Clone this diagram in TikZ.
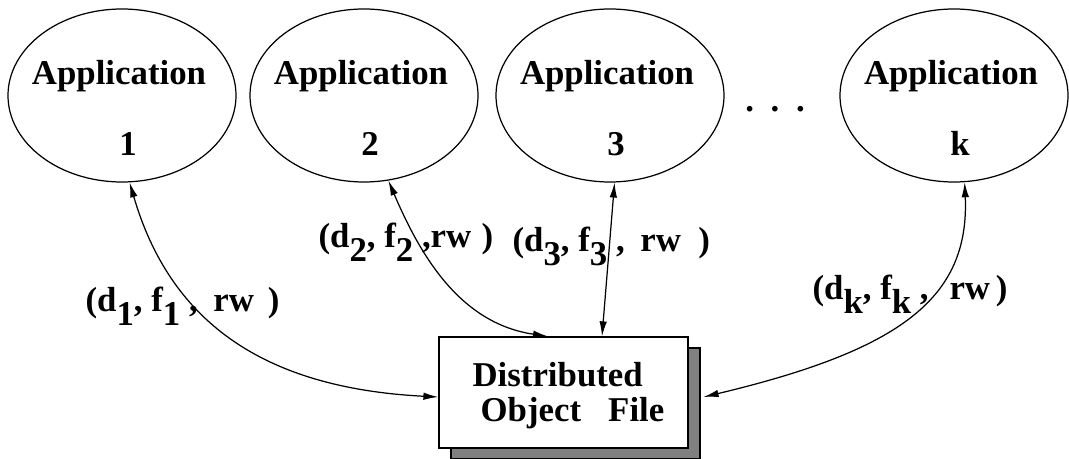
\documentclass[tikz,border=0pt]{standalone}
\usepackage{fontspec}
\setmainfont{Liberation Serif}
\usetikzlibrary{arrows.meta,shapes.geometric,shadows}
\newcommand{\dn}[1]{\raisebox{-0.4em}{#1}}
\tikzset{
  app/.style={draw, ellipse, minimum width=4.56cm, minimum height=3.46cm, inner sep=0pt},
  dofbox/.style={draw, fill=white, minimum width=4.98cm, minimum height=2.22cm, inner sep=0pt,
    drop shadow={shadow xshift=0.24cm, shadow yshift=-0.22cm, fill=gray, draw=black, opacity=1}},
  link/.style={{Latex[length=0.3cm,width=0.15cm]}-{Latex[length=0.3cm,width=0.15cm]}},
  txt/.style={anchor=base, inner sep=0pt},
  lbl/.style={anchor=base west, inner sep=0pt}
}
\begin{document}
\begin{tikzpicture}[line width=0.7pt, font=\fontsize{19.8}{23}\selectfont\bfseries]
    \useasboundingbox (0,0) rectangle (21.38,9.18);
    % applications
    \node[app] (app1) at (2.44,7.27) {};
    \node[txt] (name1) at ([xshift=-0.06cm,yshift=0.21cm]app1.center) {Application};
    \node[txt] (num1) at ([xshift=0.12cm,yshift=-1.21cm]app1.center) {1};
    \node[app] (app2) at (7.28,7.27) {};
    \node[txt] (name2) at ([xshift=-0.06cm,yshift=0.21cm]app2.center) {Application};
    \node[txt] (num2) at ([xshift=0.12cm,yshift=-1.21cm]app2.center) {2};
    \node[app] (app3) at (12.20,7.27) {};
    \node[txt] (name3) at ([xshift=-0.06cm,yshift=0.21cm]app3.center) {Application};
    \node[txt] (num3) at ([xshift=0.12cm,yshift=-1.21cm]app3.center) {3};
    \node[txt] (dots) at (15.5,6.94) {.\hspace{0.48em}.\hspace{0.48em}.};
    \node[app] (appk) at (19.08,7.27) {};
    \node[txt] (namek) at ([xshift=-0.06cm,yshift=0.21cm]appk.center) {Application};
    \node[txt] (numk) at ([xshift=0.12cm,yshift=-1.21cm]appk.center) {k};
    % object file
    \node[dofbox] (dof) at (11.27,1.33) {};
    \node[lbl] (dofa) at (9.44,1.44) {Distributed};
    \node[lbl] (dofb) at (9.60,0.74) {Object\hspace{0.78em}File};
    % links
    \draw[link] (app1.-85) .. controls +(0.8,-2.74) and +(-3.56,0.18) .. ([yshift=-0.09cm]dof.west);
    \draw[link] (app2.-74) .. controls +(0.64,-1.5) and +(-1.76,0.26) .. ([xshift=-0.31cm]dof.north);
    \draw[link] (app3.-87) -- ([xshift=0.77cm]dof.north);
    \draw[link] (appk.-83) .. controls +(0.1,-2.32) and +(3.94,0.94) .. ([xshift=0.30cm,yshift=-0.09cm]dof.east);
    % labels
    \node[lbl] (lab1) at (1.70,2.94) {(d\dn{1}, f\dn{1} ,\hspace{.45em}rw\hspace{.4em})};
    \node[lbl] (lab2) at (6.36,4.22) {(d\dn{2}, f\dn{2} ,rw\hspace{.3em})};
    \node[lbl] (lab3) at (10.24,4.14) {(d\dn{3}, f\dn{3} ,\hspace{.45em}rw\hspace{.5em})};
    \node[lbl] (labk) at (16.24,3.18) {(d\dn{k}, f\dn{k} ,\hspace{.6em}rw\,)};
\end{tikzpicture}
\end{document}
